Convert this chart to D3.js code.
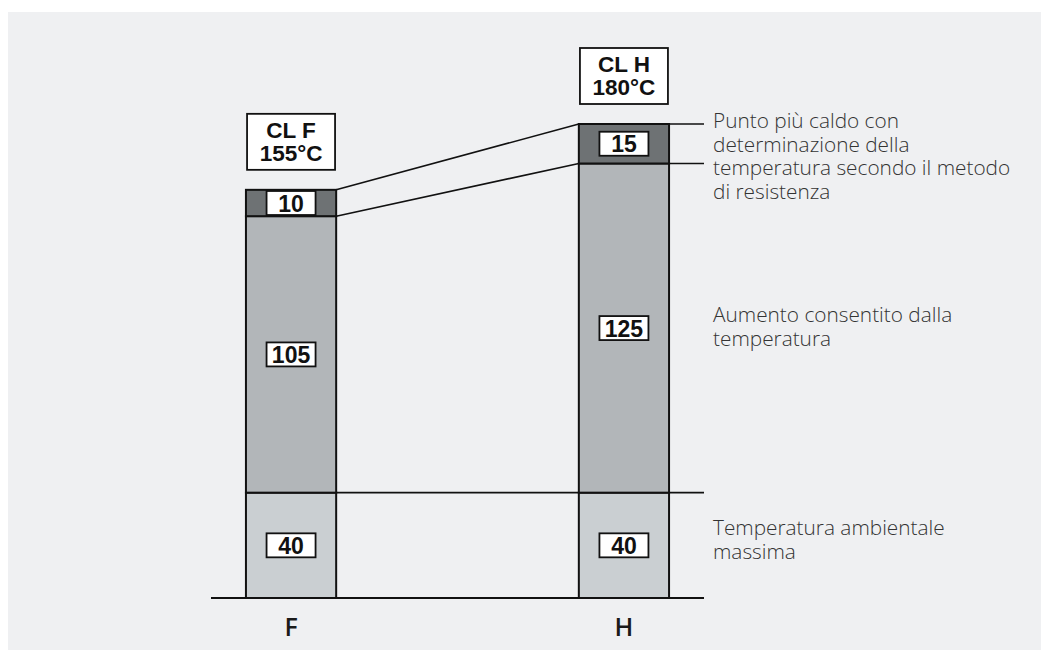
<!DOCTYPE html>
<html>
<head>
<meta charset="utf-8">
<script src="https://cdn.jsdelivr.net/npm/d3@7"></script>
<style>
  html, body { margin: 0; padding: 0; background: #ffffff; }
  svg { display: block; }
</style>
</head>
<body>
<div id="chart"></div>
<script>
// Insulation classes: stacked temperature components (°C)
const categories = ["F", "H"];
const classTitles = ["CL F", "CL H"];
const classTemps = ["155°C", "180°C"];
const ambient = [40, 40];        // maximum ambient temperature
const rise = [105, 125];         // permitted temperature rise
const hotspot = [10, 15];        // hot-spot allowance (resistance method)

const annotations = [
  { lines: ["Punto più caldo con", "determinazione della", "temperatura secondo il metodo", "di resistenza"], y0: 128 },
  { lines: ["Aumento consentito dalla", "temperatura"], y0: 322 },
  { lines: ["Temperatura ambientale", "massima"], y0: 535 }
];

const W = 1049, H = 662;
const svg = d3.select("#chart").append("svg").attr("width", W).attr("height", H);

// background panel
svg.append("rect").attr("x", 8).attr("y", 12).attr("width", 1033).attr("height", 638)
  .attr("fill", "#eff0f2");

const x = d3.scaleBand().domain(categories).range([211, 704])
  .paddingInner(0.729).paddingOuter(0.105);
const y = d3.scaleLinear().domain([0, 180]).range([598, 124]);

const segColors = ["#cacfd2", "#b2b6b9", "#6e7274"];

const rows = categories.map((c, i) => {
  const vals = [ambient[i], rise[i], hotspot[i]];
  let acc = 0;
  const segs = vals.map((v, k) => {
    const s = { k, v, y0: acc, y1: acc + v };
    acc += v;
    return s;
  });
  return { c, i, segs, total: acc };
});

const bw = x.bandwidth();
const [r0, r1] = x.range();

// connector lines between the two bars
const g = svg.append("g");
const F = rows[0], Hc = rows[1];
// top of the stack and top of the rise segment
[[F.total, Hc.total], [F.segs[1].y1, Hc.segs[1].y1]].forEach(([a, b]) => {
  g.append("line")
    .attr("x1", x("F") + bw).attr("y1", y(a))
    .attr("x2", x("H")).attr("y2", y(b))
    .attr("stroke", "#111").attr("stroke-width", 1.6);
  g.append("line")
    .attr("x1", x("H") + bw).attr("y1", y(b))
    .attr("x2", r1).attr("y2", y(b))
    .attr("stroke", "#111").attr("stroke-width", 1.6);
});
// ambient level line
const amb = F.segs[0].y1;
g.append("line").attr("x1", x("F") + bw).attr("x2", x("H"))
  .attr("y1", y(amb)).attr("y2", y(amb)).attr("stroke", "#111").attr("stroke-width", 1.6);
g.append("line").attr("x1", x("H") + bw).attr("x2", r1)
  .attr("y1", y(amb)).attr("y2", y(amb)).attr("stroke", "#111").attr("stroke-width", 1.6);

// stacked bars
const bars = svg.append("g").selectAll("g").data(rows).join("g");
bars.selectAll("rect.seg").data(d => d.segs.map(s => ({ ...s, c: d.c })))
  .join("rect").attr("class", "seg")
  .attr("x", d => x(d.c))
  .attr("width", bw)
  .attr("y", d => y(d.y1))
  .attr("height", d => y(d.y0) - y(d.y1))
  .attr("fill", d => segColors[d.k])
  .attr("stroke", "#111").attr("stroke-width", 2);

// value tags
const tagW = 49, tagH = 24;
bars.selectAll("g.tag").data(d => d.segs.map(s => ({ ...s, c: d.c })))
  .join("g").attr("class", "tag")
  .attr("transform", d => `translate(${x(d.c) + bw / 2},${(y(d.y0) + y(d.y1)) / 2})`)
  .each(function (d) {
    const t = d3.select(this);
    t.append("rect").attr("x", -tagW / 2).attr("y", -tagH / 2)
      .attr("width", tagW).attr("height", tagH)
      .attr("fill", "#fff").attr("stroke", "#111").attr("stroke-width", 1.8);
    t.append("text").attr("text-anchor", "middle").attr("y", 8.5)
      .attr("font-family", "Liberation Sans, Arial, sans-serif")
      .attr("font-weight", "bold").attr("font-size", 23).attr("fill", "#111")
      .text(d.v);
  });

// class title boxes above each stack
const boxW = 88, boxH = 56, boxGap = 20;
bars.append("g")
  .attr("transform", d => `translate(${x(d.c) + bw / 2},${y(d.total) - boxGap - boxH})`)
  .each(function (d) {
    const t = d3.select(this);
    t.append("rect").attr("x", -boxW / 2).attr("y", 0).attr("width", boxW).attr("height", boxH)
      .attr("fill", "#fff").attr("stroke", "#111").attr("stroke-width", 1.8);
    const txt = t.append("text").attr("text-anchor", "middle")
      .attr("font-family", "Liberation Sans, Arial, sans-serif")
      .attr("font-weight", "bold").attr("font-size", 22.5).attr("fill", "#111");
    txt.append("tspan").attr("x", 0).attr("y", 24).text(classTitles[d.i]);
    txt.append("tspan").attr("x", 0).attr("y", 47).text(classTemps[d.i]);
  });

// baseline
svg.append("line").attr("x1", r0).attr("x2", r1)
  .attr("y1", y(0)).attr("y2", y(0)).attr("stroke", "#111").attr("stroke-width", 1.8);

// category labels
svg.append("g").selectAll("text").data(categories).join("text")
  .attr("x", d => x(d) + bw / 2).attr("y", 636)
  .attr("text-anchor", "middle")
  .attr("font-family", "Open Sans, sans-serif").attr("font-weight", 600)
  .attr("font-size", 25).attr("fill", "#1a1a1a")
  .text(d => d);

// annotations on the right, one text per line
const ann = svg.append("g");
annotations.forEach(a => {
  a.lines.forEach((l, k) => {
    ann.append("text")
      .attr("x", 713).attr("y", a.y0 + k * 23.5)
      .attr("font-family", "Open Sans, sans-serif").attr("font-weight", 300)
      .attr("font-size", 20.8).attr("fill", "#333")
      .text(l);
  });
});
</script>
</body>
</html>
